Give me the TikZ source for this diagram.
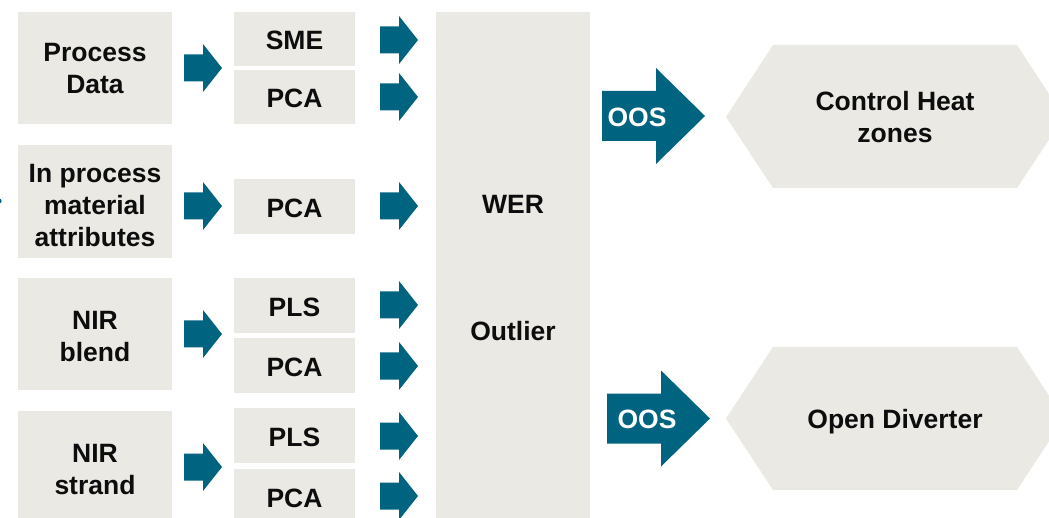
\documentclass[tikz,border=0pt]{standalone}
\usepackage{fontspec}
\setmainfont{Liberation Sans}
\definecolor{boxfill}{HTML}{EAE9E3}
\definecolor{arrowblue}{HTML}{00637F}
\definecolor{ink}{HTML}{0D0D0D}
\newcommand{\lift}[1]{\rule{0pt}{#1}}
\tikzset{
  every node/.style={font=\fontsize{26.5}{32}\selectfont\bfseries, text=ink, align=center, inner sep=0pt, text depth=0pt},
  srcbox/.style={fill=boxfill, minimum width=154pt, minimum height=112pt},
  modelbox/.style={fill=boxfill, minimum width=121pt, minimum height=54.5pt, text height=22pt},
  pics/smallarrow/.style={code={
    \fill[arrowblue] (-19,-13.5) -- (0,-13.5) -- (0,-24) -- (19,0) -- (0,24) -- (0,13.5) -- (-19,13.5) -- cycle;}},
  pics/bigarrow/.style={code={
    \fill[arrowblue] (-54,-25) -- (0,-25) -- (0,-48) -- (49,0) -- (0,48) -- (0,25) -- (-54,25) -- cycle;}},
}
\begin{document}
\begin{tikzpicture}[x=1pt,y=-1pt]
\useasboundingbox (0,0) rectangle (1049,518);
\fill[white] (0,0) rectangle (1049,518);

% partial marker on the left edge
\fill[arrowblue] (-1,201) circle (2.6);

% data sources
\node[srcbox] (pd)  at (95,68)    {Process\\Data};
\node[srcbox, minimum height=113pt] (ipm) at (95,201.5) {\lift{26pt}In process\\material\\attributes};
\node[srcbox] (nb)  at (95,334)   {\lift{22.5pt}NIR\\blend};
\node[srcbox] (ns)  at (95,467)   {\lift{22pt}NIR\\strand};

% models
\node[modelbox] (sme)  at (294.5,39)    {SME};
\node[modelbox] (pca1) at (294.5,97)    {PCA};
\node[modelbox] (pca2) at (294.5,206.5) {PCA};
\node[modelbox] (pls1) at (294.5,305.5) {PLS};
\node[modelbox] (pca3) at (294.5,365.5) {PCA};
\node[modelbox] (pls2) at (294.5,435.5) {PLS};
\node[modelbox] (pca4) at (294.5,496.5) {PCA};

% arrows from sources to models
\pic at (203,68)  {smallarrow};
\pic at (203,206) {smallarrow};
\pic at (203,334) {smallarrow};
\pic at (203,467) {smallarrow};

% arrows from models to the monitor
\pic at (399,40)  {smallarrow};
\pic at (399,97)  {smallarrow};
\pic at (399,206) {smallarrow};
\pic at (399,305) {smallarrow};
\pic at (399,366) {smallarrow};
\pic at (399,436) {smallarrow};
\pic at (399,496) {smallarrow};

% monitor column
\node[fill=boxfill, minimum width=154pt, minimum height=514pt] (mon) at (513,269) {};
\node (wer) at (513,204) {WER};
\node (out) at (513,331) {Outlier};

% out-of-spec arrows
\pic at (656,116) {bigarrow};
\node[text=white] (oos1) at (637,117) {OOS};
\pic at (661,418.5) {bigarrow};
\node[text=white] (oos2) at (647,419) {OOS};

% actions
\fill[boxfill] (726,117) -- (773,45) -- (1017,45) -- (1064,117) -- (1017,188) -- (773,188) -- cycle;
\node (heat) at (895,117) {Control Heat\\zones};
\fill[boxfill] (726,418.5) -- (773,347) -- (1017,347) -- (1064,418.5) -- (1017,490) -- (773,490) -- cycle;
\node (div) at (895,419) {Open Diverter};
\end{tikzpicture}
\end{document}
